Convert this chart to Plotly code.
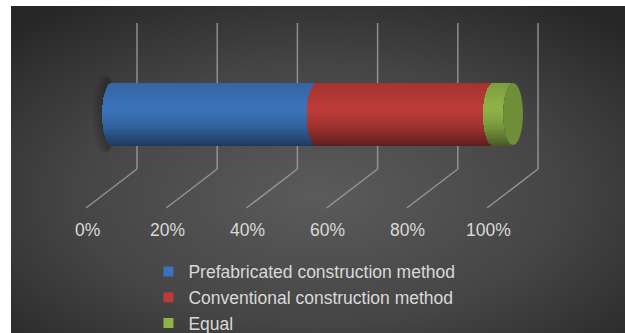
import base64
import numpy as np
import plotly.graph_objects as go

# ---------------- data ----------------
categories = ["Prefabricated construction method",
              "Conventional construction method",
              "Equal"]
values = [51, 44, 5]
tick_values = [0, 20, 40, 60, 80, 100]
tick_labels = ["0%", "20%", "40%", "60%", "80%", "100%"]

# ---------------- style ----------------
colors = ["#3b73ba", "#bb3b37", "#8fb347"]
cap_color = "#6e8e37"
text_color = "#d9d9d9"
grid_color = "rgba(170,170,170,0.75)"
FONT = "Liberation Sans, Arial, sans-serif"

W, H = 625, 333
PX0, PXU = 112.0, 4.01          # pixel of value 0 at bar depth, pixels per unit
X_RANGE = [-PX0 / PXU, (W - PX0) / PXU]
Y_HI = 1.14                      # 1 y-unit = 100 px, bar centre at 114 px
Y_RANGE = [Y_HI - H / 100.0, Y_HI]
BAR_H = 0.62
HW = 10.0 / PXU                  # half width of the end ellipse (data units)
BACK, FRONT = 25, -26            # 3-D depth offsets of the grid (px)


def hex2rgb(h):
    h = h.lstrip("#")
    return [int(h[i:i + 2], 16) for i in (0, 2, 4)]


def shade(hexcol, t):
    if t >= 0.25:
        k = 1 - 0.12 * (t - 0.25) / 0.75
    else:
        k = 1 - 0.5 * ((0.25 - t) / 1.25) ** 1.6
    r, g, b = [min(255, int(round(c * k))) for c in hex2rgb(hexcol)]
    return f"rgb({r},{g},{b})"


fig = go.Figure()

cum = np.concatenate([[0], np.cumsum(values)[:-1]])
total = float(np.sum(values))

# cylinder body built from thin horizontal bands
N = 40
bw = BAR_H / N
for k in range(N):
    off = -BAR_H / 2 + k * bw
    t = (off + bw / 2) / (BAR_H / 2)
    d = HW * np.sqrt(max(0.0, 1 - t * t))
    fig.add_trace(go.Bar(
        orientation="h", y=[0] * len(values), x=values, base=cum - d,
        width=bw * 1.15, offset=off - bw * 0.07,
        marker=dict(color=[shade(c, t) for c in colors], line=dict(width=0)),
        showlegend=False, hoverinfo="skip"))

# legend entries
for name, c in zip(categories, colors):
    fig.add_trace(go.Scatter(
        x=[None], y=[None], mode="markers", name=name,
        marker=dict(symbol="square", size=10, color=c,
                    line=dict(width=0))))

shapes = []
# soft shadow behind left end
for sx, so in [(20, 0.05), (17, 0.06), (14, 0.07), (11, 0.08)]:
    shapes.append(dict(type="circle", xref="x", yref="y", xsizemode="pixel",
                       xanchor=0, x0=-sx, x1=4, y0=-0.33 - sx / 300, y1=0.33 + sx / 300,
                       fillcolor=f"rgba(0,0,0,{so})", line=dict(width=0),
                       layer="below"))
# 3-D gridlines (vertical on back wall + diagonal on floor)
for v in tick_values:
    shapes.append(dict(type="line", xref="x", yref="paper", xsizemode="pixel",
                       xanchor=v, x0=BACK, x1=BACK,
                       y0=1 - 23 / H, y1=1 - 169 / H,
                       line=dict(color=grid_color, width=1.5), layer="below"))
    shapes.append(dict(type="line", xref="x", yref="paper", xsizemode="pixel",
                       xanchor=v, x0=BACK, x1=FRONT,
                       y0=1 - 169 / H, y1=1 - 208 / H,
                       line=dict(color=grid_color, width=1.5), layer="below"))
# end cap
shapes.append(dict(type="circle", xref="x", yref="y", xsizemode="pixel",
                   xanchor=total, x0=-10, x1=10,
                   y0=-BAR_H / 2, y1=BAR_H / 2,
                   fillcolor=cap_color, line=dict(width=0), layer="above"))

annotations = [dict(x=v, y=1 - 230 / H, xref="x", yref="paper", xshift=FRONT + 1,
                    text=lab, showarrow=False, yanchor="middle",
                    font=dict(family=FONT, size=17.5, color=text_color))
               for v, lab in zip(tick_values, tick_labels)]

svg = ('<svg xmlns="http://www.w3.org/2000/svg" width="614" height="327" '
       'viewBox="0 0 614 327" preserveAspectRatio="none"><defs>'
       '<radialGradient id="g" cx="0.5" cy="0.58" r="0.72">'
       '<stop offset="0" stop-color="#5b5b5b"/>'
       '<stop offset="0.55" stop-color="#454545"/>'
       '<stop offset="1" stop-color="#262626"/>'
       '</radialGradient></defs>'
       '<rect width="614" height="327" fill="url(#g)"/></svg>')
src = "data:image/svg+xml;base64," + base64.b64encode(svg.encode()).decode()

fig.update_layout(
    width=W, height=H,
    margin=dict(l=0, r=0, t=0, b=0, pad=0, autoexpand=False),
    paper_bgcolor="white", plot_bgcolor="rgba(0,0,0,0)",
    barmode="overlay", bargap=0,
    xaxis=dict(range=X_RANGE, visible=False, fixedrange=True),
    yaxis=dict(range=Y_RANGE, visible=False, fixedrange=True),
    shapes=shapes, annotations=annotations,
    images=[dict(source=src, xref="paper", yref="paper",
                 x=11 / W, y=1 - 6 / H, sizex=1 - 11 / W, sizey=1 - 6 / H,
                 xanchor="left", yanchor="top", sizing="stretch",
                 layer="below")],
    legend=dict(x=0.2375, y=1 - 253.5 / H, xanchor="left", yanchor="top",
                bgcolor="rgba(0,0,0,0)", itemsizing="trace",
                font=dict(family=FONT, size=17.5, color=text_color),
                traceorder="normal"),
    font=dict(family=FONT, color=text_color),
)

fig.write_html("out.html")
